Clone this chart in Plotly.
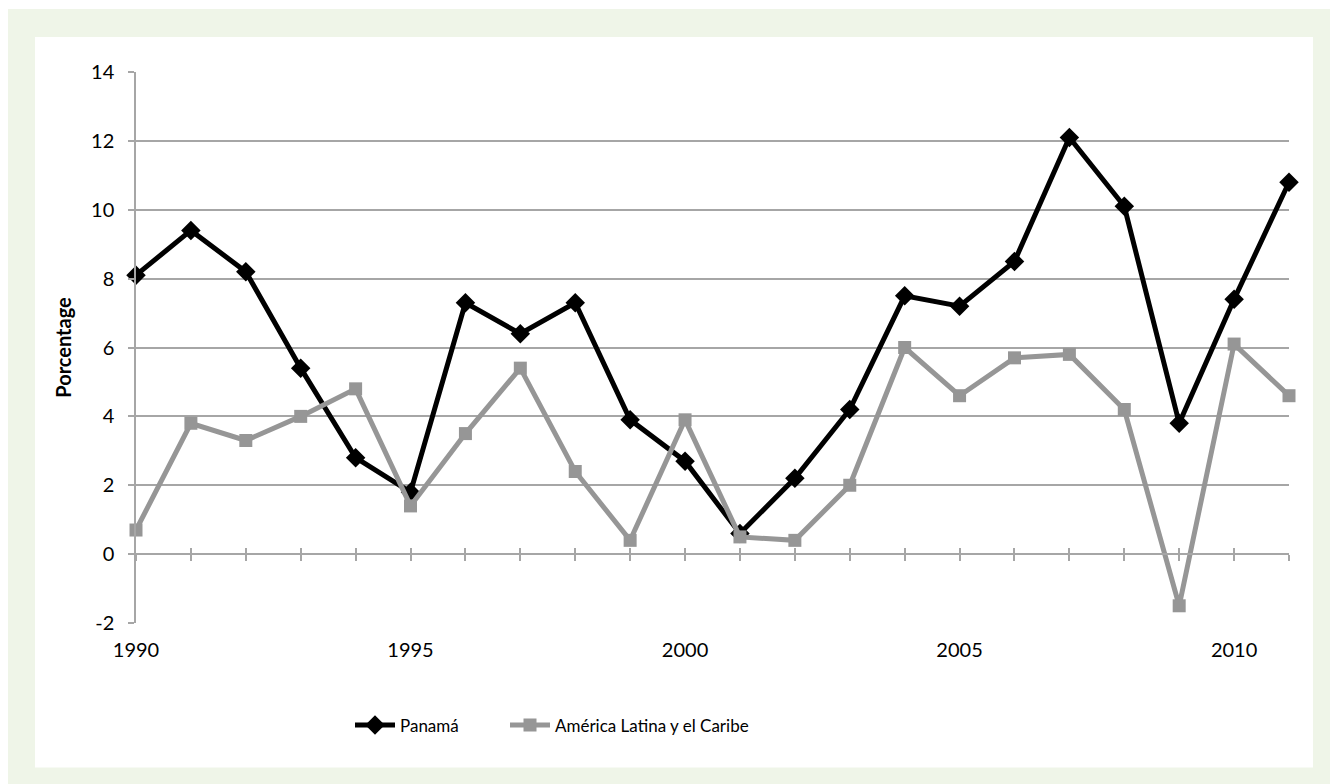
import plotly.graph_objects as go

years = list(range(1990, 2012))
panama = [8.1, 9.4, 8.2, 5.4, 2.8, 1.8, 7.3, 6.4, 7.3, 3.9, 2.7,
          0.6, 2.2, 4.2, 7.5, 7.2, 8.5, 12.1, 10.1, 3.8, 7.4, 10.8]
alc = [0.7, 3.8, 3.3, 4.0, 4.8, 1.4, 3.5, 5.4, 2.4, 0.4, 3.9,
       0.5, 0.4, 2.0, 6.0, 4.6, 5.7, 5.8, 4.2, -1.5, 6.1, 4.6]
series_names = ["Panamá", "América Latina y el Caribe"]
y_ticks = list(range(-2, 15, 2))
y_tick_text = [str(v) for v in y_ticks]  # plain hyphen for negatives

W, H = 1330, 784
L, R, T, B = 136, 1289, 72, 622.7  # plot area in pixels
FONT = "Lato"
GRID = "#A6A6A6"


def px_x(p):
    return (p - L) / (R - L)


def px_y(p):
    return (B - p) / (B - T)


fig = go.Figure()
fig.add_trace(go.Scatter(
    x=years, y=panama, name=series_names[0], mode="lines+markers",
    line=dict(color="#000000", width=5),
    marker=dict(symbol="diamond", size=15, color="#000000"),
    cliponaxis=False, legend="legend",
))
fig.add_trace(go.Scatter(
    x=years, y=alc, name=series_names[1], mode="lines+markers",
    line=dict(color="#969696", width=5),
    marker=dict(symbol="square", size=13, color="#969696"),
    cliponaxis=False, legend="legend2",
))
# invisible traces to carry the crossing axis at y=0
fig.add_trace(go.Scatter(x=[years[0], years[-1]], y=[0, 0], xaxis="x2",
                         mode="none", showlegend=False, hoverinfo="skip"))
fig.add_trace(go.Scatter(x=[years[0], years[-1]], y=[0, 0], xaxis="x3",
                         mode="none", showlegend=False, hoverinfo="skip"))

zero_pos = 2 / 16  # y=0 within range [-2, 14]
legend_style = dict(
    orientation="h", xanchor="left", y=px_y(725), yanchor="middle",
    font=dict(family=FONT, size=17, color="#000000"),
    bgcolor="rgba(0,0,0,0)", itemwidth=40,
)

fig.update_layout(
    width=W, height=H,
    margin=dict(l=L, r=W - R, t=T, b=H - B, autoexpand=False),
    paper_bgcolor="#FFFFFF",
    plot_bgcolor="rgba(0,0,0,0)",
    font=dict(family=FONT, size=20, color="#000000"),
    showlegend=True,
    legend=dict(x=px_x(350), **legend_style),
    legend2=dict(x=px_x(505), **legend_style),
    xaxis=dict(
        range=[1990, 2011], tick0=1990, dtick=5, showgrid=False,
        zeroline=False, showline=False, ticks="outside", ticklen=9,
        tickcolor="rgba(0,0,0,0)", tickfont=dict(family=FONT, size=20),
    ),
    xaxis2=dict(
        overlaying="x", anchor="free", position=zero_pos,
        range=[1990, 2011], tick0=1990, dtick=1, showgrid=False,
        zeroline=False, showline=True, linecolor=GRID, linewidth=1.5,
        ticks="outside", ticklen=6, tickcolor=GRID, tickwidth=1.5,
        showticklabels=False,
    ),
    xaxis3=dict(
        overlaying="x", anchor="free", position=zero_pos,
        range=[1990, 2011], tick0=1990, dtick=1, showgrid=False,
        zeroline=False, showline=False,
        ticks="inside", ticklen=6, tickcolor=GRID, tickwidth=1.5,
        showticklabels=False,
    ),
    yaxis=dict(
        range=[-2, 14], tickmode="array", tickvals=y_ticks,
        ticktext=y_tick_text,
        showgrid=True, gridcolor=GRID, gridwidth=1.5,
        zeroline=False, showline=True, linecolor=GRID, linewidth=1.5,
        ticks="outside", ticklen=6, tickcolor=GRID, tickwidth=1.5,
        ticklabelstandoff=10,
        tickfont=dict(family=FONT, size=20),
        title=dict(text="<b>Porcentage</b>", font=dict(family=FONT, size=20),
                   standoff=14),
    ),
    shapes=[
        dict(type="rect", xref="paper", yref="paper", layer="below",
             x0=px_x(8), x1=px_x(W + 5), y0=px_y(9), y1=px_y(H + 5),
             fillcolor="#EFF5E8", line=dict(width=0)),
        dict(type="rect", xref="paper", yref="paper", layer="below",
             x0=px_x(35), x1=px_x(1313), y0=px_y(37), y1=px_y(767),
             fillcolor="#FFFFFF", line=dict(width=0)),
    ],
)

fig.write_html("out.html")
